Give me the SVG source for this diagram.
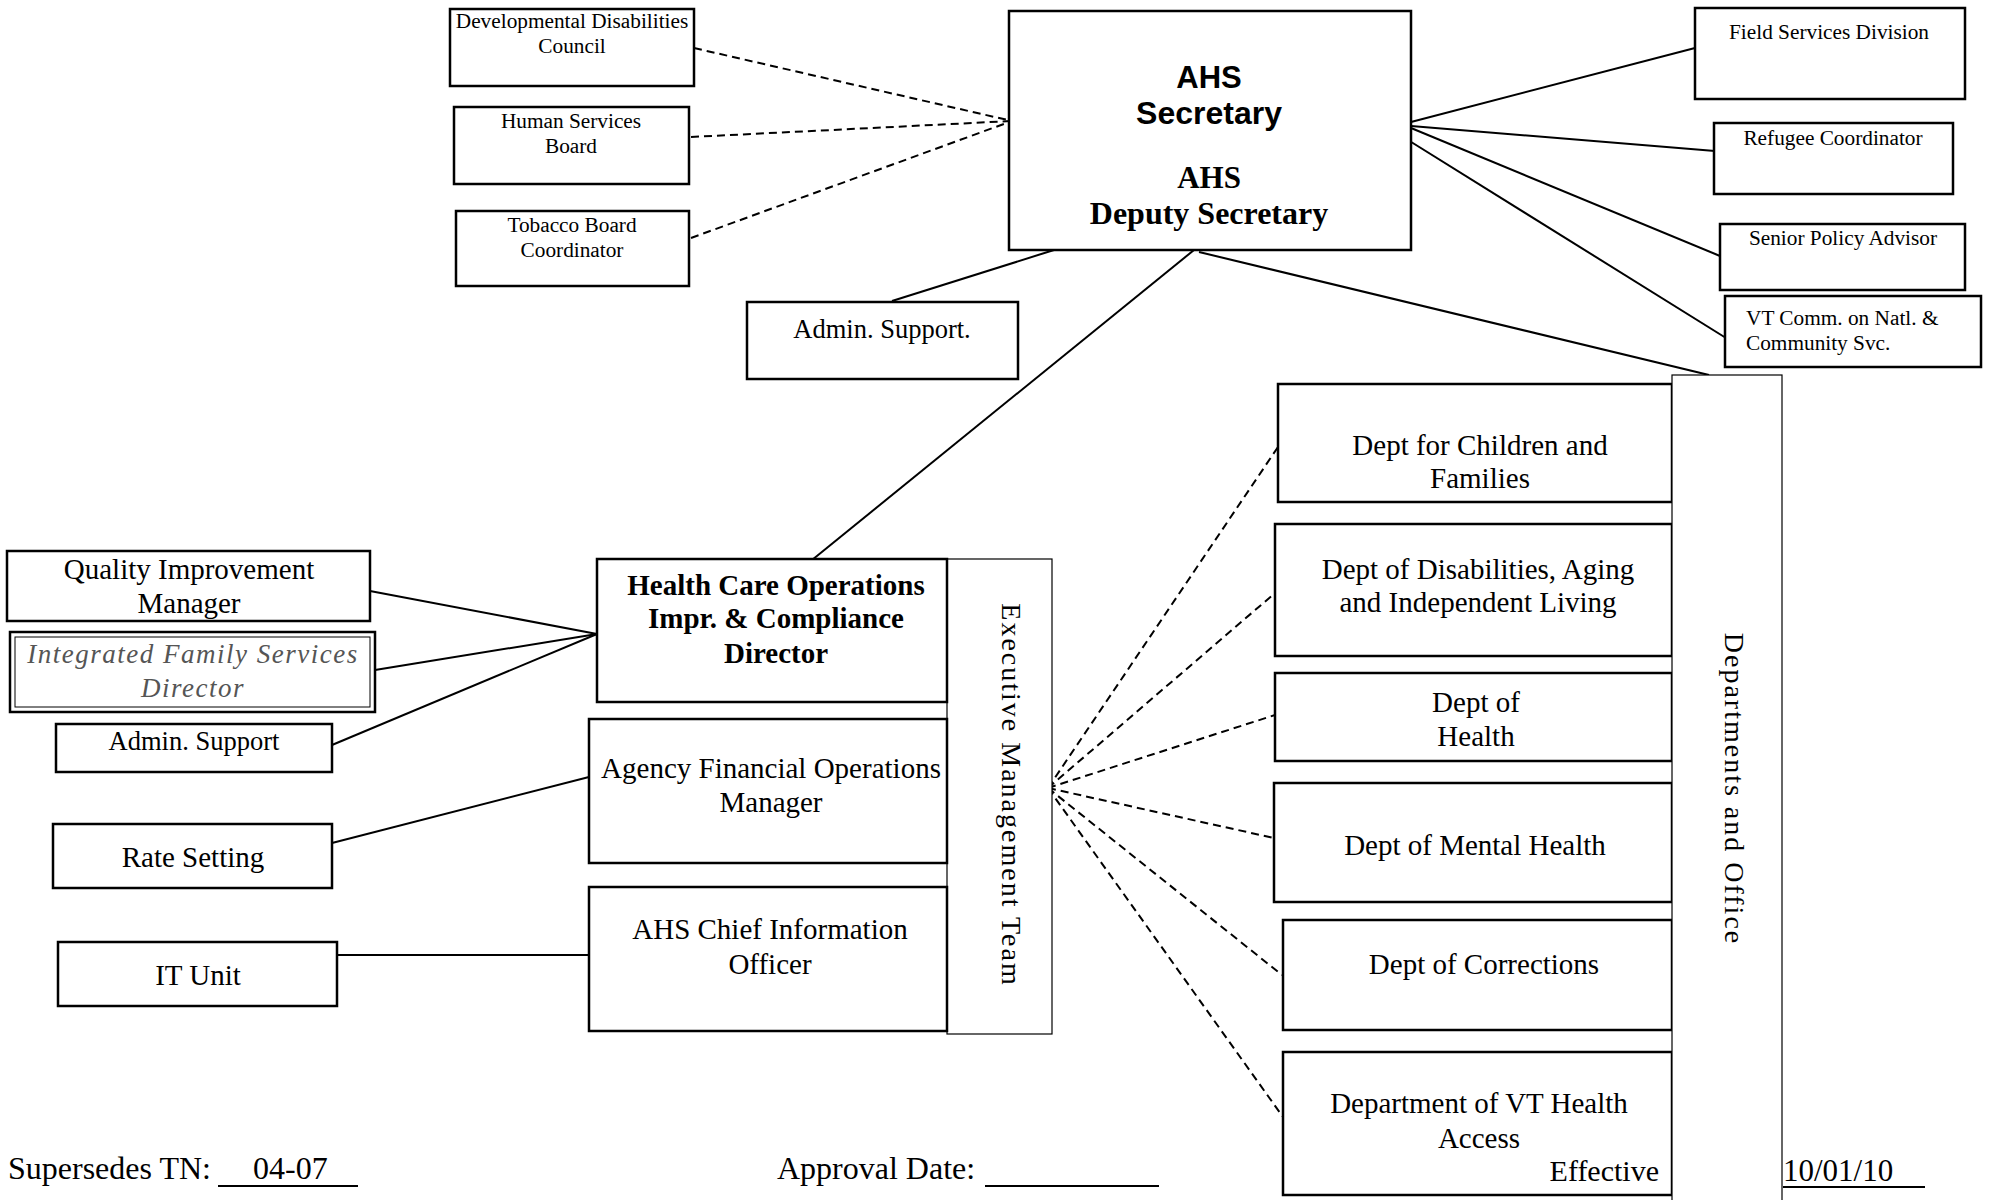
<svg xmlns="http://www.w3.org/2000/svg" width="1992" height="1200" viewBox="0 0 1992 1200">
<style>
.b{fill:#fff;stroke:#000;stroke-width:2.5}
.t{fill:#fff;stroke:#000;stroke-width:1.2}
.s{font-family:"Liberation Serif","Times New Roman",serif;fill:#000;text-anchor:middle}
.a{font-family:"Liberation Sans",Arial,sans-serif;font-weight:bold}
.sm{font-size:21.3px}
.m{font-size:29px}
.ln{stroke:#000;stroke-width:2;fill:none}
.d{stroke:#000;stroke-width:2;fill:none;stroke-dasharray:8 5}
.st{text-anchor:start}
</style>
<rect width="1992" height="1200" fill="#fff"/>
<g id="connectors">
<line class="d" x1="694" y1="48" x2="1012" y2="121"/>
<line class="d" x1="691" y1="137" x2="1012" y2="121"/>
<line class="d" x1="691" y1="238" x2="1012" y2="121"/>
<line class="ln" x1="892" y1="301" x2="1054" y2="250"/>
<line class="ln" x1="1194" y1="250" x2="812" y2="560"/>
<line class="ln" x1="1199" y1="252" x2="1709" y2="375"/>
<line class="ln" x1="1411" y1="122" x2="1695" y2="48"/>
<line class="ln" x1="1411" y1="126" x2="1715" y2="151"/>
<line class="ln" x1="1411" y1="128" x2="1720" y2="256"/>
<line class="ln" x1="1408" y1="140" x2="1726" y2="338"/>
<line class="ln" x1="370" y1="591" x2="597" y2="634"/>
<line class="ln" x1="375" y1="670" x2="597" y2="634"/>
<line class="ln" x1="332" y1="745" x2="597" y2="634"/>
<line class="ln" x1="332" y1="843" x2="589" y2="777"/>
<line class="ln" x1="332" y1="955" x2="589" y2="955"/>
<line class="d" x1="1048" y1="788" x2="1278" y2="447"/>
<line class="d" x1="1048" y1="788" x2="1275" y2="593"/>
<line class="d" x1="1048" y1="788" x2="1275" y2="715"/>
<line class="d" x1="1048" y1="788" x2="1274" y2="838"/>
<line class="d" x1="1048" y1="788" x2="1282" y2="975"/>
<line class="d" x1="1048" y1="788" x2="1283" y2="1117"/>
</g>
<g id="ddc"><rect class="b" x="450" y="9" width="244" height="77"/>
<text class="s sm" x="572" y="28">Developmental Disabilities</text>
<text class="s sm" x="572" y="53">Council</text></g>
<g id="hsb"><rect class="b" x="454" y="107" width="235" height="77"/>
<text class="s sm" x="571" y="128">Human Services</text>
<text class="s sm" x="571" y="153">Board</text></g>
<g id="tobacco"><rect class="b" x="456" y="211" width="233" height="75"/>
<text class="s sm" x="572" y="232">Tobacco Board</text>
<text class="s sm" x="572" y="257">Coordinator</text></g>
<g id="admin-top"><rect class="b" x="747" y="302" width="271" height="77"/>
<text class="s" font-size="26.5" x="882" y="338">Admin. Support.</text></g>
<g id="secretary"><rect class="b" x="1009" y="11" width="402" height="239" stroke-width="3"/>
<text class="s a" font-size="31" x="1209" y="88">AHS</text>
<text class="s a" font-size="32" x="1209" y="124">Secretary</text>
<text class="s" font-weight="bold" font-size="31" x="1209" y="188">AHS</text>
<text class="s" font-weight="bold" font-size="32" x="1209" y="224">Deputy Secretary</text></g>
<g id="field"><rect class="b" x="1695" y="8" width="270" height="91"/>
<text class="s sm" x="1829" y="39">Field Services Division</text></g>
<g id="refugee"><rect class="b" x="1714" y="123" width="239" height="71"/>
<text class="s sm" x="1833" y="145">Refugee Coordinator</text></g>
<g id="senior"><rect class="b" x="1720" y="224" width="245" height="66"/>
<text class="s sm" x="1843" y="245">Senior Policy Advisor</text></g>
<g id="vtcomm"><rect class="b" x="1725" y="296" width="256" height="71"/>
<text class="s sm st" x="1746" y="325">VT Comm. on Natl. &amp;</text>
<text class="s sm st" x="1746" y="350">Community Svc.</text></g>
<g id="qim"><rect class="b" x="7" y="551" width="363" height="70"/>
<text class="s m" x="189" y="579">Quality Improvement</text>
<text class="s m" x="189" y="613">Manager</text></g>
<g id="ifsd"><rect class="b" x="10" y="632" width="365" height="80"/>
<rect x="15" y="637" width="355" height="70" fill="none" stroke="#000" stroke-width="1"/>
<text class="s" font-size="27" font-style="italic" letter-spacing="1.5" x="193" y="663" style="fill:#555">Integrated Family Services</text>
<text class="s" font-size="27" font-style="italic" letter-spacing="1.5" x="193" y="697" style="fill:#555">Director</text></g>
<g id="admin-left"><rect class="b" x="56" y="724" width="276" height="48"/>
<text class="s" font-size="26.5" x="194" y="750">Admin. Support</text></g>
<g id="rate"><rect class="b" x="53" y="824" width="279" height="64"/>
<text class="s m" x="193" y="867">Rate Setting</text></g>
<g id="itunit"><rect class="b" x="58" y="942" width="279" height="64"/>
<text class="s m" x="198" y="985">IT Unit</text></g>
<g id="exec"><rect class="t" x="947" y="559" width="105" height="475"/>
<text class="s" font-size="28" letter-spacing="2" transform="translate(1002,795) rotate(90)" x="0" y="0">Executive Management Team</text></g>
<g id="hco"><rect class="b" x="597" y="559" width="350" height="143"/>
<text class="s m" font-weight="bold" x="776" y="595">Health Care Operations</text>
<text class="s m" font-weight="bold" x="776" y="628">Impr. &amp; Compliance</text>
<text class="s m" font-weight="bold" x="776" y="663">Director</text></g>
<g id="afom"><rect class="b" x="589" y="719" width="358" height="144"/>
<text class="s m" x="771" y="778">Agency Financial Operations</text>
<text class="s m" x="771" y="812">Manager</text></g>
<g id="cio"><rect class="b" x="589" y="887" width="358" height="144"/>
<text class="s m" x="770" y="939">AHS Chief Information</text>
<text class="s m" x="770" y="974">Officer</text></g>
<g id="dcf"><rect class="b" x="1278" y="384" width="394" height="118"/>
<text class="s m" x="1480" y="455">Dept for Children and</text>
<text class="s m" x="1480" y="488">Families</text></g>
<g id="ddail"><rect class="b" x="1275" y="524" width="397" height="132"/>
<text class="s m" x="1478" y="579">Dept of Disabilities, Aging</text>
<text class="s m" x="1478" y="612">and Independent Living</text></g>
<g id="doh"><rect class="b" x="1275" y="673" width="397" height="88"/>
<text class="s m" x="1476" y="712">Dept of</text>
<text class="s m" x="1476" y="746">Health</text></g>
<g id="dmh"><rect class="b" x="1274" y="783" width="398" height="119"/>
<text class="s m" x="1475" y="855">Dept of Mental Health</text></g>
<g id="doc"><rect class="b" x="1283" y="920" width="389" height="110"/>
<text class="s m" x="1484" y="974">Dept of Corrections</text></g>
<g id="dvha"><rect class="b" x="1283" y="1052" width="389" height="143"/>
<text class="s m" x="1479" y="1113">Department of VT Health</text>
<text class="s m" x="1479" y="1148">Access</text>
<text class="s" font-size="30" x="1659" y="1181" style="text-anchor:end">Effective</text></g>
<g id="departments"><rect class="t" x="1672" y="375" width="110" height="830"/>
<text class="s" font-size="28" letter-spacing="2" transform="translate(1725,789) rotate(90)" x="0" y="0">Departments and Office</text></g>
<g id="footer">
<text class="s st" font-size="32" x="8" y="1179">Supersedes TN:</text>
<text class="s st" font-size="32" x="253" y="1179">04-07</text>
<line x1="218" y1="1186" x2="358" y2="1186" stroke="#000" stroke-width="2"/>
<text class="s st" font-size="32" x="777" y="1179">Approval Date:</text>
<line x1="985" y1="1186" x2="1159" y2="1186" stroke="#000" stroke-width="2"/>
<text class="s st" font-size="31" x="1783" y="1181">10/01/10</text>
<line x1="1783" y1="1187" x2="1925" y2="1187" stroke="#000" stroke-width="2"/>
</g>
</svg>
